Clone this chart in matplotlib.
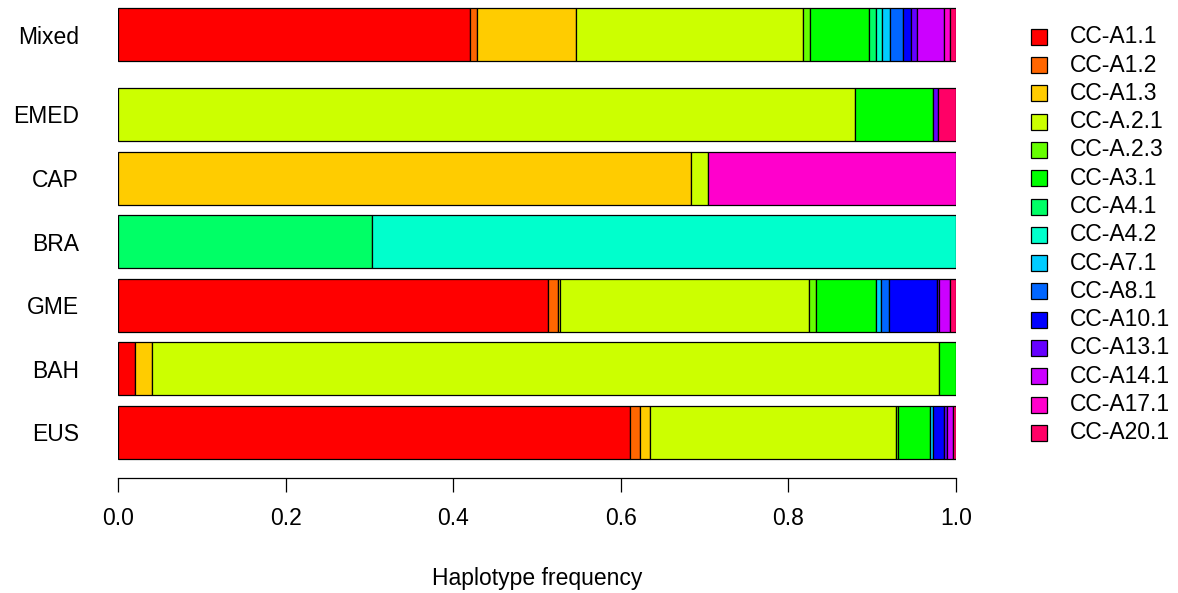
import matplotlib.pyplot as plt
from matplotlib.patches import Rectangle

plt.rcParams['font.family'] = ['Liberation Sans', 'DejaVu Sans']

# populations, bottom to top
populations = ["EUS", "BAH", "GME", "BRA", "CAP", "EMED", "Mixed"]
haplotypes = ["CC-A1.1", "CC-A1.2", "CC-A1.3", "CC-A.2.1", "CC-A.2.3", "CC-A3.1",
              "CC-A4.1", "CC-A4.2", "CC-A7.1", "CC-A8.1", "CC-A10.1", "CC-A13.1",
              "CC-A14.1", "CC-A17.1", "CC-A20.1"]
colors = ["#FF0000", "#FF6600", "#FFCC00", "#CCFF00", "#66FF00", "#00FF00",
          "#00FF66", "#00FFCC", "#00CCFF", "#0066FF", "#0000FF", "#6600FF",
          "#CC00FF", "#FF00CC", "#FF0066"]

# frequencies per haplotype (same order as haplotypes)
freq_EUS = [0.611, 0.012, 0.012, 0.293, 0.003, 0.038, 0, 0, 0.004, 0, 0.013, 0.003, 0.008, 0, 0.003]
freq_BAH = [0.020, 0, 0.020, 0.940, 0, 0.020, 0, 0, 0, 0, 0, 0, 0, 0, 0]
freq_GME = [0.513, 0.012, 0.003, 0.296, 0.009, 0.071, 0, 0, 0.007, 0.009, 0.057, 0.003, 0.013, 0, 0.007]
freq_BRA = [0, 0, 0, 0, 0, 0, 0.303, 0.697, 0, 0, 0, 0, 0, 0, 0]
freq_CAP = [0, 0, 0.684, 0.020, 0, 0, 0, 0, 0, 0, 0, 0, 0, 0.296, 0]
freq_EMED = [0, 0, 0, 0.8795, 0, 0.0935, 0, 0, 0, 0, 0, 0.005, 0, 0, 0.022]
freq_Mixed = [0.420, 0.0087, 0.118, 0.271, 0.0086, 0.070, 0.0088, 0.007, 0.009, 0.016,
              0.009, 0.007, 0.032, 0.008, 0.007]
freqs = [freq_EUS, freq_BAH, freq_GME, freq_BRA, freq_CAP, freq_EMED, freq_Mixed]

# barplot-like spacing: 0.2 between bars, 0.5 before "Mixed"
spaces = [0.2, 0.2, 0.2, 0.2, 0.2, 0.2, 0.5]
centers = []
pos = 0
for s in spaces:
    pos += s
    centers.append(pos + 0.5)
    pos += 1

W, H = 1178, 593
FS = 16.5
fig = plt.figure(figsize=(W / 100, H / 100), dpi=100)
ax = fig.add_axes([118 / W, (H - 478) / H, (956 - 118) / W, 478 / H])

for yc, row in zip(centers, freqs):
    left = 0
    for val, col in zip(row, colors):
        if val > 0:
            ax.barh(yc, val, left=left, height=1, color=col,
                    edgecolor="black", linewidth=0.9)
        left += val

ax.set_xlim(0, 1)
ax.set_ylim(-0.1585, 8.86)
for side in ["top", "right", "left"]:
    ax.spines[side].set_visible(False)
ax.spines["bottom"].set_linewidth(0.9)
ax.set_xticks([0, 0.2, 0.4, 0.6, 0.8, 1.0])
ax.set_xticklabels(["0.0", "0.2", "0.4", "0.6", "0.8", "1.0"])
ax.tick_params(axis="x", length=10, width=0.9, pad=11, labelsize=FS)
ax.set_yticks(centers)
ax.set_yticklabels(populations)
ax.tick_params(axis="y", length=0, pad=28, labelsize=FS)
fig.text(537 / W, 1 - 578 / H, "Haplotype frequency", fontsize=FS,
         ha="center", va="center")

# legend drawn by hand in pixel coordinates
lax = fig.add_axes([0, 0, 1, 1])
lax.set_xlim(0, W)
lax.set_ylim(H, 0)
lax.axis("off")
for i, (lab, col) in enumerate(zip(haplotypes, colors)):
    y = 36.7 + i * 28.3
    lax.add_patch(Rectangle((1031, y - 8), 16, 16, facecolor=col,
                            edgecolor="black", linewidth=0.9))
    lax.text(1070, y, lab, fontsize=FS, va="center", ha="left", color="black")

fig.savefig("out.png", dpi=100)
